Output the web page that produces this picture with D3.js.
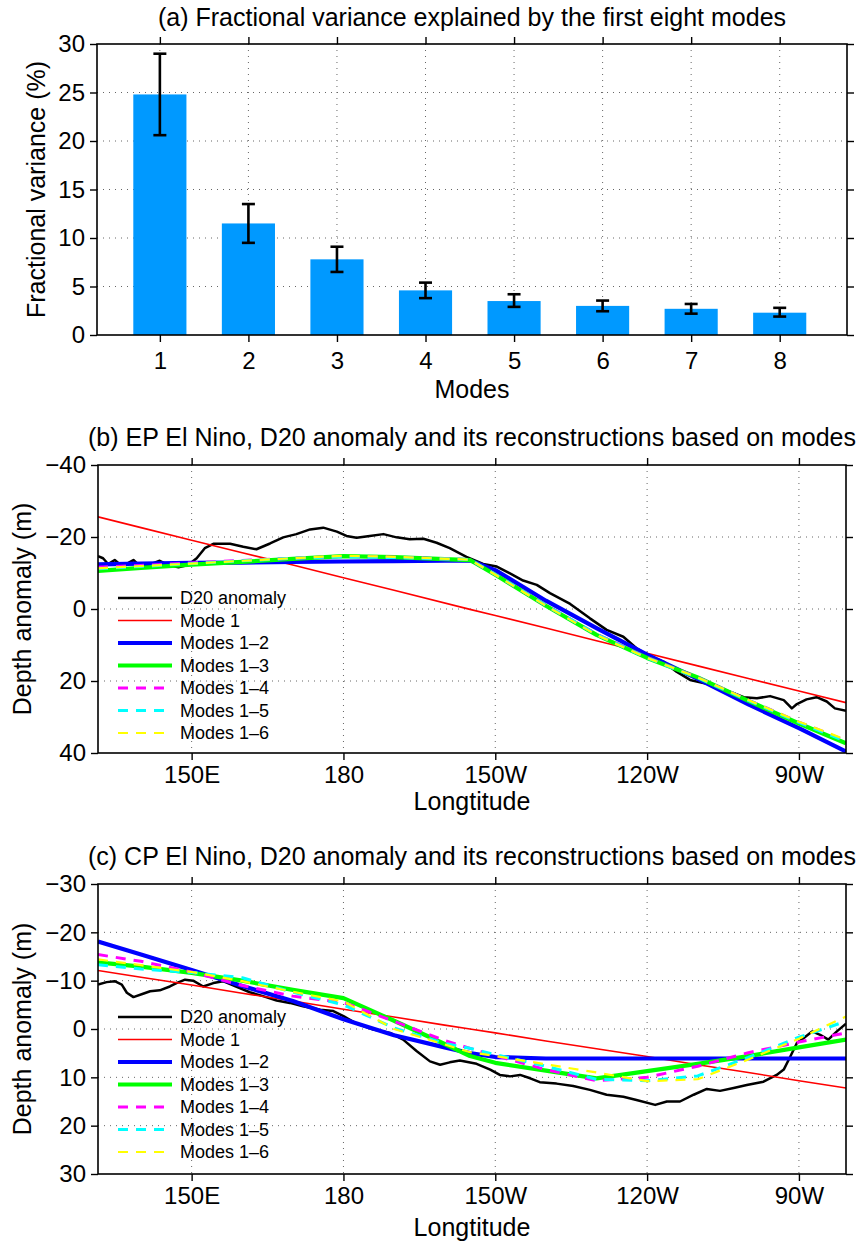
<!DOCTYPE html>
<html><head><meta charset="utf-8">
<script src="https://cdn.jsdelivr.net/npm/d3@7"></script>
<style>
body{margin:0;background:#fff}
svg{display:block;background:#fff}
text{font-family:"Liberation Sans",Arial,Helvetica,sans-serif;fill:#000}
</style>
</head><body>
<svg id="chart" width="866" height="1244"></svg>
<script>
// ---------------- DATA ----------------
// Panel (a)
const modes = [1, 2, 3, 4, 5, 6, 7, 8];
const variance = [24.8, 11.5, 7.8, 4.6, 3.5, 3.0, 2.7, 2.3];
const errLow  = [20.6, 9.5, 6.5, 3.8, 2.9, 2.45, 2.2, 1.9];
const errHigh = [29.0, 13.5, 9.1, 5.4, 4.2, 3.55, 3.2, 2.8];
const varTicks = [0, 5, 10, 15, 20, 25, 30];

// Longitude axis (panels b, c)
const lonTicks = [150, 180, 210, 240, 270];
const lonTickLabels = ["150E", "180", "150W", "120W", "90W"];
const epDepthTicks = [-40, -20, 0, 20, 40];
const cpDepthTicks = [-30, -20, -10, 0, 10, 20, 30];

const seriesNames = ["D20 anomaly", "Mode 1", "Modes 1\u20132", "Modes 1\u20133", "Modes 1\u20134", "Modes 1\u20135", "Modes 1\u20136"];

// Panel (b) EP El Nino
const epLon = [131.5,132.5,133.5,134.8,136.5,137.5,138.5,139.8,141.4,143.7,145.4,147.4,149.3,151.0,152.6,154.3,157.6,160.2,162.8,165.5,168.1,170.7,173.4,176.0,178.7,180.6,182.6,185.2,187.9,190.5,193.1,195.8,198.4,201.0,204.3,207.6,210.3,212.9,215.5,218.2,220.8,224.8,228.7,232.0,235.3,237.9,240.6,243.2,245.8,248.5,251.8,254.4,257.1,259.1,261.7,264.3,267.0,268.6,269.6,271.5,273.5,275.5,277.1,279.3];
const epD20 = [-14.7,-14.1,-12.5,-13.6,-11.6,-12.8,-13.6,-11.9,-12.2,-13.4,-12.2,-11.6,-12.2,-14.1,-16.9,-18.1,-18.1,-17.3,-16.6,-18.2,-19.9,-20.8,-22.1,-22.6,-21.5,-20.3,-19.8,-20.3,-20.8,-19.9,-19.4,-19.5,-18.4,-16.9,-14.5,-12.5,-11.8,-9.9,-7.9,-6.7,-4.4,-1.4,2.6,5.8,7.7,10.9,13.2,14.6,17.4,19.7,20.8,22.0,23.4,24.5,24.8,24.2,25.3,27.6,26.4,25.1,24.5,25.7,27.6,28.3];
const epRecLon = [131.5,140,150,160,170,180,190,205,210,220,230,240,250,260,270,279.3];
const epMode1   = [-25.6,-22.6,-19.1,-15.6,-12.2,-8.7,-5.2,0.1,1.8,5.3,8.8,12.3,15.8,19.3,22.8,26.0];
const epModes12 = [-12.4,-12.6,-12.8,-12.9,-13.1,-13.2,-13.3,-13.5,-10.8,-2.3,5.3,12.7,19.4,26.5,33.1,39.6];
const epModes13 = [-10.6,-11.4,-12.3,-13.1,-13.9,-14.7,-14.4,-13.6,-9.5,-0.9,7.2,13.6,19.0,25.5,31.8,37.3];
const epModes14 = [-11.6,-12.1,-12.8,-13.5,-14.1,-14.6,-14.4,-13.7,-9.6,-1.0,7.0,13.5,19.0,25.3,31.4,36.6];
const epModes15 = [-11.2,-11.8,-12.6,-13.4,-14.1,-14.5,-14.3,-13.7,-9.6,-1.0,7.1,13.6,19.1,25.4,31.5,36.8];
const epModes16 = [-11.3,-11.9,-12.6,-13.4,-14.1,-14.8,-14.5,-13.7,-9.5,-0.9,7.2,13.6,19.0,25.3,31.3,36.3];

// Panel (c) CP El Nino
const cpLon = [131.5,133.2,134.8,136.2,137.2,138.5,140.4,141.8,143.7,145.7,147.0,148.7,150.3,152.3,154.3,156.2,158.9,161.5,164.1,166.8,169.4,172.0,175.4,178.0,180.1,182.6,185.9,189.2,191.8,194.5,197.1,199.1,201.0,203.0,206.3,209.0,210.9,212.9,214.9,216.9,218.8,222.1,225.4,228.7,232.0,235.3,237.9,241.6,243.9,246.5,249.2,251.8,254.4,257.1,259.7,263.0,265.6,267.0,268.3,269.6,270.9,272.6,274.2,275.8,277.5,279.3];
const cpD20 = [-9.2,-9.7,-9.9,-9.2,-7.5,-6.6,-7.3,-7.8,-8.0,-8.8,-9.5,-10.2,-10.0,-8.8,-9.5,-9.9,-8.7,-7.6,-6.8,-5.9,-5.4,-4.7,-4.0,-3.7,-2.6,-1.1,0.1,0.8,2.2,4.6,6.7,7.4,6.9,6.5,7.2,8.4,9.5,9.8,9.5,10.2,11.0,11.3,11.8,12.6,13.6,14.0,14.7,15.7,15.0,15.0,13.6,12.4,12.8,12.2,11.6,10.9,9.5,8.4,5.7,2.9,1.9,0.5,1.2,2.2,0.5,-1.1];
const cpRecLon = [131.5,140,150,160,170,180,190,200,205,210,220,230,240,250,260,270,279.3];
const cpMode1   = [-12.1,-10.7,-9.1,-7.4,-5.8,-4.1,-2.5,-0.8,0.0,0.8,2.5,4.1,5.7,7.4,9.0,10.7,12.2];
const cpModes12 = [-18.1,-15.4,-12.2,-8.9,-5.8,-2.0,1.3,3.8,5.0,5.8,6.1,6.1,6.1,6.1,6.1,6.1,6.1];
const cpModes13 = [-13.8,-12.9,-11.6,-10.0,-8.1,-6.4,-1.7,3.1,5.6,7.0,8.6,10.2,8.7,7.2,5.6,3.8,2.2];
const cpModes14 = [-15.4,-14.0,-11.8,-9.0,-6.8,-5.5,-1.6,2.4,4.0,5.5,8.4,10.7,10.0,7.7,4.9,2.7,0.8];
const cpModes15 = [-13.3,-12.4,-11.7,-10.6,-7.6,-5.0,-0.2,3.0,4.0,5.3,7.7,10.4,10.7,9.7,5.9,1.7,-1.6];
const cpModes16 = [-14.4,-13.2,-11.8,-9.9,-7.7,-5.7,0.0,3.2,4.8,5.6,7.3,9.0,10.8,10.4,6.3,2.0,-2.6];

// ---------------- STYLES ----------------
const seriesColors = ["#000000", "#ff0000", "#0000ff", "#00ff00", "#ff00ff", "#00ffff", "#ffff00"];
const seriesWidths = [2.5, 1.6, 4.2, 4.2, 3, 3, 2.2];
const seriesDash = [null, null, null, null, "10,8", "10,8", "10,8"];

const svg = d3.select("#chart");
const FS_TICK = 24, FS_LABEL = 25, FS_TITLE = 25, FS_LEG = 18;

function gridLines(p, x, y, xt, yt) {
  const g = svg.append("g");
  g.selectAll(null).data(xt).join("line")
    .attr("x1", d => x(d)).attr("x2", d => x(d)).attr("y1", p.t).attr("y2", p.b)
    .attr("stroke", "#666").attr("stroke-width", 1).attr("stroke-dasharray", "1,5");
  g.selectAll(null).data(yt).join("line")
    .attr("y1", d => y(d)).attr("y2", d => y(d)).attr("x1", p.l).attr("x2", p.r)
    .attr("stroke", "#666").attr("stroke-width", 1).attr("stroke-dasharray", "1,5");
}

function axes(p, x, y, xt, yt, xfmt, xLabOff) {
  const style = g => {
    g.select(".domain").remove();
    g.selectAll(".tick line").attr("stroke", "#000").attr("stroke-width", 1.4);
    g.selectAll("text").attr("font-size", FS_TICK).attr("font-family", null);
    g.attr("font-family", null).attr("font-size", null);
  };
  svg.append("g").attr("transform", `translate(0,${p.b})`)
    .call(d3.axisBottom(x).tickValues(xt).tickSize(7).tickSizeOuter(0).tickFormat(xfmt))
    .call(style)
    .call(g => g.selectAll("text").attr("dy", null).attr("y", xLabOff));
  svg.append("g").attr("transform", `translate(0,${p.t})`)
    .call(d3.axisTop(x).tickValues(xt).tickSize(7).tickSizeOuter(0).tickFormat(""))
    .call(style);
  svg.append("g").attr("transform", `translate(${p.l},0)`)
    .call(d3.axisLeft(y).tickValues(yt).tickSize(7).tickSizeOuter(0).tickPadding(5))
    .call(style);
  svg.append("g").attr("transform", `translate(${p.r},0)`)
    .call(d3.axisRight(y).tickValues(yt).tickSize(7).tickSizeOuter(0).tickFormat(""))
    .call(style);
  svg.append("rect").attr("x", p.l).attr("y", p.t).attr("width", p.r - p.l).attr("height", p.b - p.t)
    .attr("fill", "none").attr("stroke", "#000").attr("stroke-width", 1.6);
}

function title(p, yb, str) {
  svg.append("text").attr("x", (p.l + p.r) / 2).attr("y", yb).attr("text-anchor", "middle")
    .attr("font-size", FS_TITLE).text(str);
}
function xLabel(p, yb, str) {
  svg.append("text").attr("x", (p.l + p.r) / 2).attr("y", yb).attr("text-anchor", "middle")
    .attr("font-size", FS_LABEL).text(str);
}
function yLabel(p, xb, str) {
  svg.append("text").attr("transform", `translate(${xb},${(p.t + p.b) / 2}) rotate(-90)`)
    .attr("text-anchor", "middle").attr("font-size", FS_LABEL).text(str);
}

// ---------------- PANEL (a) ----------------
const pa = {l: 97, r: 847, t: 44, b: 335};
const xa = d3.scaleLinear().domain([0.29, 8.76]).range([pa.l, pa.r]);
const ya = d3.scaleLinear().domain([0, 30]).range([pa.b, pa.t]);
gridLines(pa, xa, ya, modes, varTicks.filter(v => v > 0 && v < 30));
const barW = xa(0.6) - xa(0);
svg.append("g").selectAll("rect").data(modes).join("rect")
  .attr("x", (d) => xa(d) - barW / 2).attr("width", barW)
  .attr("y", (d, i) => ya(variance[i])).attr("height", (d, i) => ya(0) - ya(variance[i]))
  .attr("fill", "#0099ff");
const eb = svg.append("g").attr("stroke", "#000").attr("stroke-width", 2.6);
modes.forEach((m, i) => {
  eb.append("line").attr("x1", xa(m)).attr("x2", xa(m)).attr("y1", ya(errLow[i])).attr("y2", ya(errHigh[i]));
  eb.append("line").attr("x1", xa(m) - 6.5).attr("x2", xa(m) + 6.5).attr("y1", ya(errLow[i])).attr("y2", ya(errLow[i]));
  eb.append("line").attr("x1", xa(m) - 6.5).attr("x2", xa(m) + 6.5).attr("y1", ya(errHigh[i])).attr("y2", ya(errHigh[i]));
});
axes(pa, xa, ya, modes, varTicks, d3.format("d"), 34);
title(pa, 26, "(a) Fractional variance explained by the first eight modes");
xLabel(pa, 398, "Modes");
yLabel(pa, 45, "Fractional variance (%)");

// ---------------- PANELS (b), (c) ----------------
function linePanel(p, yDomain, yTicks, d20Lon, d20, recLon, recs, ttl) {
  const x = d3.scaleLinear().domain([131.5, 279.3]).range([p.l, p.r]);
  const y = d3.scaleLinear().domain(yDomain).range([p.t, p.b]);
  gridLines(p, x, y, lonTicks, yTicks.slice(1, -1));
  const clipId = "clip" + p.t;
  svg.append("clipPath").attr("id", clipId).append("rect")
    .attr("x", p.l).attr("y", p.t).attr("width", p.r - p.l).attr("height", p.b - p.t);
  const lg = svg.append("g").attr("clip-path", `url(#${clipId})`);
  const line = d3.line().x(d => x(d[0])).y(d => y(d[1]));
  const all = [d20Lon.map((l, i) => [l, d20[i]])].concat(recs.map(r => recLon.map((l, i) => [l, r[i]])));
  all.forEach((pts, k) => {
    lg.append("path").attr("d", line(pts)).attr("fill", "none")
      .attr("stroke", seriesColors[k]).attr("stroke-width", seriesWidths[k])
      .attr("stroke-dasharray", seriesDash[k]).attr("stroke-linejoin", "round");
  });
  // legend
  const leg = svg.append("g");
  seriesNames.forEach((nm, k) => {
    const yy = p.t + 133 + k * 22.5;
    leg.append("line").attr("x1", 118).attr("x2", 172).attr("y1", yy).attr("y2", yy)
      .attr("stroke", seriesColors[k]).attr("stroke-width", seriesWidths[k])
      .attr("stroke-dasharray", seriesDash[k]);
    leg.append("text").attr("x", 180).attr("y", yy).attr("dy", "0.36em")
      .attr("font-size", FS_LEG).text(nm);
  });
  axes(p, x, y, lonTicks, yTicks, (d, i) => lonTickLabels[i], 30);
  title(p, p.t - 19, ttl);
  yLabel(p, 31, "Depth anomaly (m)");
}

const pb = {l: 98, r: 846, t: 465, b: 753};
linePanel(pb, [-40, 40], epDepthTicks, epLon, epD20, epRecLon,
  [epMode1, epModes12, epModes13, epModes14, epModes15, epModes16],
  "(b) EP El Nino, D20 anomaly and its reconstructions based on modes");
xLabel(pb, 810, "Longtitude");

const pc = {l: 98, r: 846, t: 884, b: 1174};
linePanel(pc, [-30, 30], cpDepthTicks, cpLon, cpD20, cpRecLon,
  [cpMode1, cpModes12, cpModes13, cpModes14, cpModes15, cpModes16],
  "(c) CP El Nino, D20 anomaly and its reconstructions based on modes");
xLabel(pc, 1236, "Longtitude");
</script>
</body></html>
